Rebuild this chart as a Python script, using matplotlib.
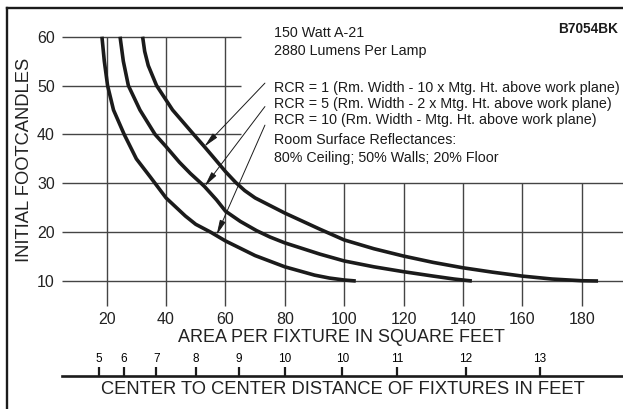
"""Footcandles vs. area per fixture chart (150 W A-21 lamp)."""

import matplotlib
matplotlib.use("Agg")
import matplotlib.pyplot as plt
from matplotlib.lines import Line2D

W, H = 623, 409

# curves: area per fixture (sq ft) vs initial footcandles
rcr1_area = [32.1, 32.8, 34.0, 36.8, 42.2, 49.3, 52.9, 56.4, 60, 63.4, 66.5, 70, 80,
             91.8, 100, 110, 120, 130, 140, 150, 160, 170, 180, 185.5]
rcr1_fc = [60, 57, 54.1, 50, 45, 40, 37.5, 35, 32.4, 30.2, 28.5, 27.0, 23.9,
           20.6, 18.4, 16.6, 15.1, 13.8, 12.7, 11.8, 11.0, 10.4, 10.05, 10]
rcr5_area = [24.5, 25.6, 27.3, 31.2, 36.3, 40, 44.5, 48.2, 51.8, 53, 57, 60,
             65, 70.5, 75, 80, 91.8, 100, 110, 120, 130, 137, 143]
rcr5_fc = [60, 55, 50, 45, 40, 37.5, 34.3, 32, 30, 29.3, 26.6, 24.3,
           22.2, 20.3, 19.0, 17.8, 15.5, 14.1, 12.9, 11.9, 11.0, 10.4, 10]
rcr10_area = [18.4, 19.2, 20.3, 22.3, 25.9, 30.0, 34.8, 40, 46.5, 50, 55, 60,
              70, 80, 90, 95, 100, 103.9]
rcr10_fc = [60, 55, 50, 45, 40, 35, 31.2, 27.0, 23.3, 21.6, 20, 18.2,
            15.2, 12.9, 11.2, 10.6, 10.2, 10]

area_ticks = [20, 40, 60, 80, 100, 120, 140, 160, 180]
fc_levels = [60, 50, 40, 30, 20, 10]
# grid lines stop short of the text block
hline_right = [65.2, 65.2, 65.2, 193.9, 193.9, 193.9]
vline_top = [60, 60, 60, 30, 30, 30, 30, 30, 30]

# center-to-center distance scale (positions in area units, as printed)
dist_pos = [17.4, 25.8, 36.7, 50.0, 64.4, 80.0, 99.4, 117.8, 141.0, 165.8]
dist_labels = ["5", "6", "7", "8", "9", "10", "10", "11", "12", "13"]

notes = [
    "150 Watt A-21",
    "2880 Lumens Per Lamp",
    "RCR = 1 (Rm. Width - 10 x Mtg. Ht. above work plane)",
    "RCR = 5 (Rm. Width - 2 x Mtg. Ht. above work plane)",
    "RCR = 10 (Rm. Width - Mtg. Ht. above work plane)",
    "Room Surface Reflectances:",
    "80% Ceiling; 50% Walls; 20% Floor",
]
note_baselines = [37.3, 55, 91.7, 108.3, 124.3, 144, 161.7]

# arrow (text end, curve end) in data units
arrows = [((73.3, 50.5), (52.9, 37.5)),
          ((73.3, 45.7), (53.0, 29.4)),
          ((73.3, 41.9), (57.0, 19.4))]

XMIN, XMAX = 4.85, 193.9
YMIN, YMAX = 4.88, 60

INK = "#1b1b1b"
GRID = "#444444"
SANS = ["Liberation Sans", "DejaVu Sans"]


def fx(px):
    return px / W


def fy(py):
    return 1 - py / H


def main():
    plt.rcParams["font.family"] = SANS
    fig = plt.figure(figsize=(W / 100, H / 100), dpi=100)

    left, right, top, bottom = 61.7, 623, 36.7, 306
    ax = fig.add_axes([fx(left), fy(bottom), fx(right) - fx(left), fy(top) - fy(bottom)])
    ax.set_xlim(XMIN, XMAX)
    ax.set_ylim(YMIN, YMAX)
    for s in ax.spines.values():
        s.set_visible(False)
    ax.patch.set_alpha(0)

    for lvl, r in zip(fc_levels, hline_right):
        ax.hlines(lvl, XMIN, r, color=GRID, lw=1.0, clip_on=False)
    for a, t in zip(area_ticks, vline_top):
        ax.vlines(a, YMIN, t, color=GRID, lw=1.0, clip_on=False)

    for xs, ys in [(rcr1_area, rcr1_fc), (rcr5_area, rcr5_fc), (rcr10_area, rcr10_fc)]:
        ax.plot(xs, ys, color=INK, lw=2.6, solid_capstyle="butt",
                solid_joinstyle="round", clip_on=False, zorder=3)

    ax.set_xticks(area_ticks)
    ax.set_yticks(fc_levels)
    ax.tick_params(length=0, labelsize=11.5, colors="#222222")
    ax.tick_params(axis="x", pad=4)
    ax.tick_params(axis="y", pad=5)

    for (x0, y0), (x1, y1) in arrows:
        ax.annotate("", xy=(x1, y1), xytext=(x0, y0),
                    arrowprops=dict(arrowstyle="-|>,head_length=0.9,head_width=0.18",
                                    color=INK, lw=0.7, shrinkA=0, shrinkB=0),
                    annotation_clip=False)

    # distance scale
    ax2 = fig.add_axes([fx(left), fy(375.7) - 0.01, fx(right) - fx(left), 0.01])
    ax2.set_xlim(XMIN, XMAX)
    ax2.patch.set_alpha(0)
    for name, s in ax2.spines.items():
        s.set_visible(name == "top")
    ax2.spines["top"].set_linewidth(1.9)
    ax2.spines["top"].set_color(INK)
    ax2.set_yticks([])
    ax2.xaxis.tick_top()
    ax2.set_xticks(dist_pos)
    ax2.set_xticklabels(dist_labels)
    ax2.tick_params(axis="x", direction="out", length=6.5, width=1.6,
                    color=INK, labelsize=8.5, pad=1.5)

    fig.text(fx(341), fy(337.5), "AREA PER FIXTURE IN SQUARE FEET",
             ha="center", va="center", fontsize=13, color="#222222")
    fig.text(fx(343.3), fy(390), "CENTER TO CENTER DISTANCE OF FIXTURES IN FEET",
             ha="center", va="center", fontsize=13.2, color="#222222")
    fig.text(fx(24.5), fy(160), "INITIAL FOOTCANDLES", rotation=90,
             ha="center", va="center", fontsize=13.2, color="#222222")

    for txt, b in zip(notes, note_baselines):
        fig.text(fx(274), fy(b), txt, ha="left", va="baseline",
                 fontsize=10.3, color=INK)
    fig.text(fx(618.3), fy(32.7), "B7054BK", ha="right", va="baseline",
             fontsize=9.8, fontweight="bold", color=INK)

    # frame (left and top edges)
    fig.add_artist(Line2D([fx(7.3), fx(7.3)], [0, fy(8)], color=INK, lw=1.7))
    fig.add_artist(Line2D([fx(6.5), 1], [fy(8), fy(8)], color=INK, lw=1.7))

    fig.savefig("out.png", dpi=100)
    plt.close(fig)


if __name__ == "__main__":
    main()
